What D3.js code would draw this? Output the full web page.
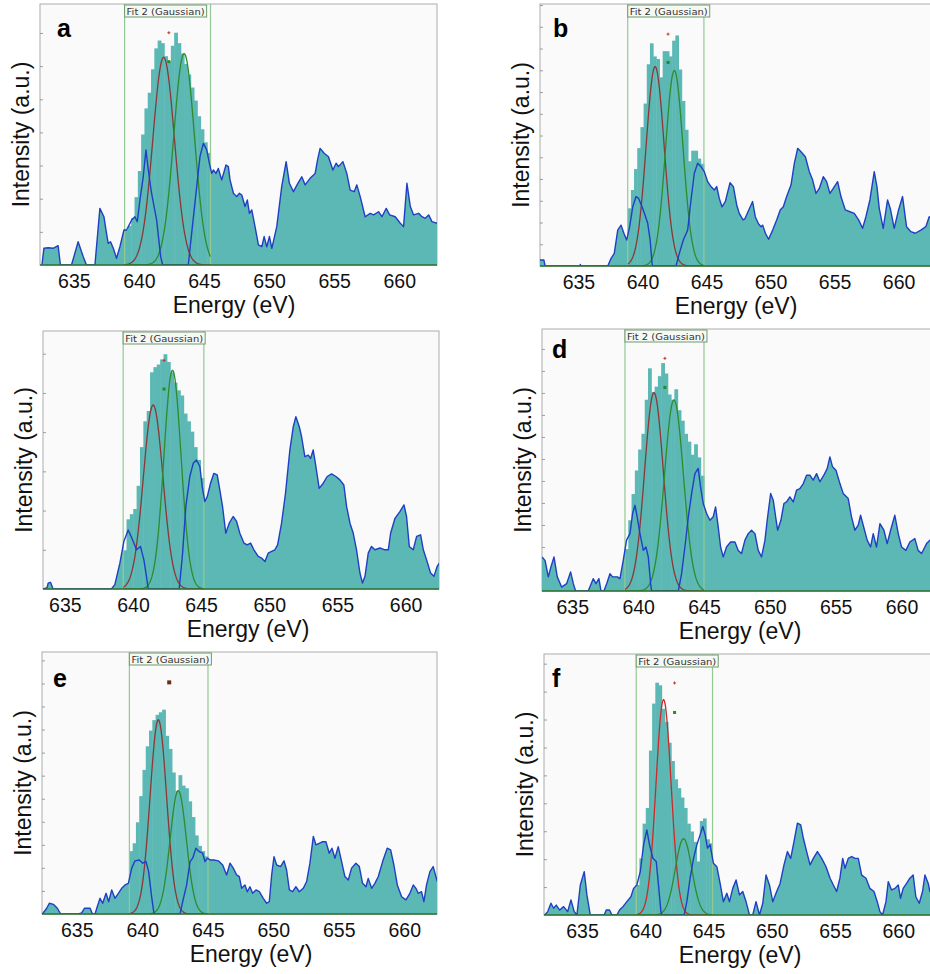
<!DOCTYPE html>
<html>
<head>
<meta charset="utf-8">
<script src="https://cdn.jsdelivr.net/npm/d3@7"></script>
<style>
  body { margin: 0; background: #fff; }
  svg { display: block; font-family: "Liberation Sans", Arial, sans-serif; }
</style>
</head>
<body>
<svg id="fig" width="930" height="974"></svg>
<script>
// ---- data (energy in eV, intensity in % of the plot height) ----
const xTicks = [635, 640, 645, 650, 655, 660];
const fitLabel = "Fit 2 (Gaussian)";

// measured spectrum (blue line); inside the fit window it is the residual
const specA = [[632.55,0],[632.7,6.4],[633.03,6.6],[633.41,6.4],[633.79,7.4],[633.97,0],[634.82,0],[635.33,8.9],[635.72,3.2],[635.97,0],[636.62,0],[637.0,21.7],[637.31,18.5],[637.51,12.1],[637.64,8.3],[637.82,8.9],[638.03,6.4],[638.28,2.6],[638.54,7.0],[638.85,13.4],[639.05,13.4],[639.44,17.2],[639.69,18.5],[639.87,16.6],[640.08,24.9],[640.33,33.8],[640.54,44.1],[640.72,36.4],[640.97,27.5],[641.36,17.2],[641.67,3.2],[641.82,0],[643.79,0],[644.05,12.1],[644.44,30.0],[644.69,41.5],[644.95,46.6],[645.21,44.1],[645.41,39.0],[645.59,35.1],[645.72,36.4],[645.92,35.1],[646.10,37.0],[646.36,32.6],[646.69,38.3],[646.87,37.7],[647.0,32.6],[647.26,27.5],[647.51,26.2],[647.72,27.5],[647.90,26.8],[648.15,22.4],[648.33,24.9],[648.49,19.8],[648.67,21.1],[648.92,14.7],[649.18,7.7],[649.44,7.0],[649.62,10.9],[649.82,7.0],[650.03,10.9],[650.21,6.4],[650.59,14.7],[650.97,30.0],[651.31,39.6],[651.56,31.3],[651.87,28.1],[652.21,31.3],[652.51,33.8],[652.77,30.7],[653.15,33.2],[653.54,35.1],[653.72,40.2],[653.92,44.7],[654.23,42.8],[654.56,41.5],[654.90,36.4],[655.15,39.0],[655.33,37.7],[655.67,39.6],[655.97,35.1],[656.23,28.7],[656.54,28.1],[656.74,30.7],[657.0,26.2],[657.38,18.5],[657.77,19.8],[658.03,19.2],[658.41,20.4],[658.67,18.5],[659.0,21.7],[659.26,19.2],[659.69,18.5],[660.08,16.0],[660.33,14.7],[660.59,31.3],[660.85,22.4],[661.10,19.2],[661.49,19.8],[661.74,18.5],[662.0,17.9],[662.26,19.2],[662.51,16.6],[662.9,16.0]];
const specB = [[632.0,2.3],[632.3,2.3],[632.4,0],[635.1,0],[635.15,0.6],[635.2,0],[637.29,0],[637.55,2.9],[637.8,4.8],[638.07,13.7],[638.33,15.6],[638.55,12.5],[638.77,9.9],[639.0,15.0],[639.24,22.6],[639.5,26.5],[639.7,25.8],[639.97,22.6],[640.15,20.1],[640.41,16.3],[640.6,9.9],[640.75,1.0],[640.8,0],[642.62,0],[642.88,4.8],[643.19,9.9],[643.53,13.7],[643.79,25.2],[644.05,35.4],[644.31,39.2],[644.57,37.9],[644.83,36.0],[645.09,32.2],[645.35,30.3],[645.61,29.0],[645.8,30.3],[646.0,25.8],[646.21,22.6],[646.47,24.6],[646.84,31.8],[647.1,30.3],[647.36,23.3],[647.56,20.1],[647.85,17.6],[648.0,18.0],[648.6,24.6],[648.81,18.8],[649.07,16.0],[649.26,15.0],[649.39,15.6],[649.6,12.5],[649.85,10.2],[650.17,13.7],[650.48,17.6],[650.76,21.4],[651.0,22.6],[651.26,26.5],[651.6,30.9],[651.86,39.2],[652.12,44.9],[652.38,43.6],[652.72,41.7],[653.03,36.0],[653.29,32.8],[653.55,27.7],[653.81,29.6],[654.12,34.1],[654.38,32.2],[654.64,27.7],[654.9,29.6],[655.24,32.2],[655.5,26.5],[655.84,21.4],[656.2,20.7],[656.54,20.1],[656.88,17.6],[657.19,14.4],[657.45,18.8],[657.76,25.2],[658.1,36.0],[658.31,30.3],[658.49,22.0],[658.8,14.4],[659.14,25.2],[659.35,22.0],[659.66,14.4],[660.0,21.4],[660.31,26.5],[660.62,15.0],[660.96,13.1],[661.3,12.5],[661.74,13.7],[662.13,15.0],[662.39,18.8],[663.0,17.0]];
const specC = [[633.4,0],[633.7,0.5],[633.78,2.3],[633.95,2.6],[634.14,0],[638.42,0],[638.67,1.7],[639.04,10],[639.33,18.4],[639.65,22.9],[639.97,19.1],[640.26,15.2],[640.55,16.5],[640.8,11.3],[640.99,4.9],[641.12,0],[643.39,0],[643.64,13.9],[643.88,32],[644.17,43.6],[644.42,48.7],[644.66,50],[644.91,47.4],[645.08,39.7],[645.27,33.9],[645.45,35.8],[645.69,41],[645.93,44.8],[646.18,44.2],[646.37,38.4],[646.57,32],[646.81,21.6],[647.06,25.5],[647.35,28.1],[647.6,26.2],[647.84,21.6],[648.14,17.8],[648.38,17.1],[648.63,17.8],[648.87,15.2],[649.19,12.6],[649.43,12],[649.68,10.7],[649.92,13.9],[650.17,14.6],[650.41,15.2],[650.61,17.1],[650.9,25.5],[651.19,37.1],[651.51,53.9],[651.76,62.9],[651.95,66.8],[652.2,62.9],[652.37,59],[652.61,51.3],[652.86,51.9],[653.03,50.6],[653.22,53.9],[653.42,47.4],[653.66,39],[653.96,41],[654.25,43.6],[654.57,44.6],[654.89,43.6],[655.18,42.3],[655.47,40.3],[655.67,32],[655.92,25.5],[656.16,21.6],[656.4,15.2],[656.65,6.2],[656.84,2.3],[657.02,4.9],[657.26,13.9],[657.5,16.5],[657.75,15.2],[658.12,15.9],[658.48,15.2],[658.73,15.2],[658.9,21.6],[659.22,27.4],[659.58,30],[659.88,32.6],[660.07,28.1],[660.27,16.5],[660.56,15.2],[660.81,20.4],[661.1,21],[661.3,15.2],[661.54,11.3],[661.83,6.2],[662.08,4.9],[662.32,8.8],[662.47,10]];
const specD = [[632.7,13],[632.93,11.7],[633.18,5.4],[633.38,9.2],[633.61,13],[633.86,5.4],[634.19,1.5],[634.57,2.8],[634.87,7.3],[635.08,2.8],[635.25,0],[636.21,0],[636.59,4.7],[636.8,2.8],[637.02,4.7],[637.18,0],[637.4,0],[637.61,2.8],[637.86,6.6],[638.06,5.4],[638.42,5.4],[638.62,4.7],[638.87,11.7],[639.12,19.4],[639.38,21.9],[639.58,29.6],[639.76,32.7],[639.93,28.3],[640.09,23.2],[640.39,15.5],[640.59,16.8],[640.77,13],[640.95,2.8],[641.02,0],[643.05,0],[643.3,6.6],[643.55,16.8],[643.81,28.3],[644.06,37.2],[644.31,44.8],[644.56,46.8],[644.74,39.7],[644.94,33.4],[645.2,29.6],[645.45,27],[645.7,28.3],[645.88,32.1],[646.08,24.5],[646.26,16.8],[646.46,13],[646.71,16.8],[647.02,18.7],[647.35,18.7],[647.6,15.5],[647.85,14.3],[648.11,19.4],[648.36,21.9],[648.61,23.2],[648.87,21.9],[649.12,15.5],[649.37,13],[649.63,19.4],[649.8,27],[650.06,37.2],[650.26,34.6],[650.44,28.3],[650.59,23.2],[650.84,27],[651.07,33.4],[651.27,34],[651.52,35.9],[651.78,34],[652.03,38.5],[652.28,39.1],[652.54,41],[652.79,44.2],[653.04,44.2],[653.29,42.3],[653.55,44.8],[653.8,41.7],[654.1,44.2],[654.36,46.8],[654.56,51.2],[654.76,47.4],[655.02,46.1],[655.32,41],[655.57,37.2],[655.95,35.3],[656.2,28.3],[656.46,23.2],[656.71,25.1],[656.89,28.9],[657.09,25.1],[657.39,19.4],[657.65,16.8],[657.85,21.9],[658.1,16.8],[658.36,25.7],[658.66,23.2],[658.91,18.1],[659.17,23.2],[659.49,28.9],[659.75,21.9],[660,16.8],[660.33,15.5],[660.63,18.7],[661.01,20],[661.26,15.5],[661.52,14.3],[661.9,18.1],[662.15,19.4],[662.9,17]];
const specE = [[632.38,0],[632.71,2.2],[632.91,4.1],[633.22,3.7],[633.52,2.2],[633.78,0],[635.13,0],[635.38,0.4],[635.6,2.2],[636.02,2.2],[636.2,0],[636.4,0],[636.53,2.2],[636.78,6],[636.98,4.1],[637.24,7.9],[637.44,4.7],[637.67,9.2],[637.92,6],[638.18,7.9],[638.43,9.8],[638.69,11.1],[638.94,11.7],[639.2,17.5],[639.45,20.3],[639.78,20.6],[640.04,19.4],[640.29,20],[640.49,16.2],[640.7,7.3],[640.9,0],[642.88,0],[643.09,4.7],[643.39,11.1],[643.65,20],[643.85,21.3],[644.1,25.1],[644.36,23.8],[644.61,23.2],[644.79,20],[644.97,21.3],[645.22,20.6],[645.48,20.6],[645.81,20.3],[646.14,18.7],[646.44,14.9],[646.7,19.4],[646.95,17.5],[647.21,14.9],[647.41,14.3],[647.59,9.8],[647.84,11.1],[648.02,8.5],[648.22,10.4],[648.43,7.9],[648.68,9.2],[648.94,8.5],[649.24,6],[649.5,4.1],[649.7,4.7],[649.88,14.9],[650.06,21.9],[650.26,18.7],[650.56,18.1],[650.82,20.3],[651.02,16.8],[651.23,9.2],[651.48,8.5],[651.73,10.4],[651.99,8.5],[652.29,9.8],[652.55,12.4],[652.8,19.4],[653.06,29.6],[653.26,26.4],[653.51,27],[653.77,27.6],[654.02,27.6],[654.28,23.2],[654.48,25.1],[654.71,21.3],[654.96,25.7],[655.22,20],[655.47,14.3],[655.73,13],[655.98,17.5],[656.31,19.4],[656.57,18.1],[656.82,11.7],[657.08,10.4],[657.25,13.6],[657.51,9.8],[657.76,11.7],[658.02,14.3],[658.35,20],[658.7,25.1],[658.96,24.5],[659.21,18.7],[659.47,11.1],[659.8,6.6],[660.13,5.4],[660.43,7.9],[660.69,11.1],[660.89,9.8],[661.07,7.9],[661.32,8.5],[661.5,4.7],[661.7,11.1],[661.96,16.2],[662.21,18.1],[662.52,12.4]];
const specF = [[632.05,0],[632.3,1.3],[632.55,4.5],[632.76,2.6],[632.97,3.8],[633.24,1.9],[633.55,3.2],[633.87,1.3],[634.13,5.8],[634.39,1.3],[634.6,0],[634.87,11.5],[635.18,16.6],[635.39,7.7],[635.66,0],[636.76,0],[636.92,1.9],[637.18,1.9],[637.37,0],[637.76,0],[637.97,1.9],[638.24,3.2],[638.55,5.1],[638.87,7],[639.08,10.2],[639.34,11.5],[639.61,16.6],[639.87,26.9],[640.13,32.6],[640.34,26.9],[640.61,21.7],[640.87,20.5],[641.05,11.5],[641.24,1.3],[641.32,0],[643.08,0],[643.29,5.1],[643.55,14.1],[643.82,21.7],[644.08,26.9],[644.34,30.7],[644.55,33.9],[644.74,30.7],[644.92,25.6],[645.13,26.9],[645.39,19.8],[645.66,18.5],[645.92,12.1],[646.18,5.1],[646.45,8.3],[646.66,5.1],[646.92,10.2],[647.18,13.4],[647.45,7.7],[647.71,9],[647.97,5.1],[648.24,0],[648.5,0],[648.76,5.1],[649.03,0],[649.29,4.5],[649.55,15.3],[649.82,11.5],[650.08,5.1],[650.39,9],[650.66,12.1],[650.97,19.2],[651.24,24.3],[651.5,21.7],[651.76,28.1],[652.03,35.2],[652.29,34.5],[652.5,29.4],[652.76,24.3],[653.03,19.2],[653.29,21.7],[653.61,24.3],[653.95,21.7],[654.29,18.5],[654.61,14.1],[654.87,11.5],[655.13,9],[655.39,14.1],[655.61,21.7],[655.79,17.9],[656.05,21.7],[656.32,22.4],[656.58,21.7],[656.84,21.7],[657.11,15.3],[657.45,14.1],[657.76,10.2],[658.08,9],[658.34,5.1],[658.55,1.3],[658.76,0],[659.03,5.1],[659.21,12.8],[659.47,9.6],[659.74,10.2],[660,11.5],[660.18,6.4],[660.39,10.2],[660.66,12.1],[660.92,14.1],[661.18,15.3],[661.39,7],[661.66,4.5],[661.92,9],[662.11,15.3],[662.37,12.1],[662.5,9],[663.3,10]];

// fit windows [from, to] in eV
const winA = [638.9, 645.5];
const winB = [638.85, 644.8];
const winC = [639.28, 645.2];
const winD = [639.0, 645.0];
const winE = [639.02, 645.02];
const winF = [639.29, 645.32];

// histogram bars shown inside the fit window (equal bins across the window)
const barsA = [13.4, 15, 18, 26, 36, 50, 60, 66, 75, 83, 86, 85, 80, 78, 84, 89, 85, 81, 77, 73, 68, 63, 57, 52, 47, 43];
const barsB = [22, 29, 37, 45, 53, 62, 77, 85, 80, 79, 72, 82, 82, 80, 86, 88, 75, 63, 52, 40, 44, 44, 41, 39];
const barsC = [15, 27, 29, 31, 40, 55, 65, 69, 84, 86, 87, 89, 91, 88, 84, 80, 77, 75, 68, 65, 61, 55, 50, 43];
const barsD = [16, 27, 37, 46, 54, 60, 73, 85, 76, 78, 82, 87, 83, 75, 73, 77, 69, 65, 60, 57, 52, 56, 51, 44];
const barsE = [24, 27, 35, 45, 55, 64, 70, 74, 76, 77, 78, 68, 63, 54, 47, 53, 49, 48, 43, 37, 30, 26, 24, 22];
const barsF = [11.5, 21.7, 35, 41, 63, 81, 89, 88, 79, 74, 66, 59, 52, 48.6, 45, 41, 35, 32, 28, 20.5, 36, 37, 29, 27.5];

// gaussian components: [centre eV, height %, sigma eV]
const fitA = [[641.9, 79.6, 0.83], [643.47, 81, 0.8]];
const fitB = [[640.99, 76.1, 0.7], [642.49, 74.6, 0.68]];
const fitC = [[641.48, 71.3, 0.72], [642.9, 84.8, 0.63]];
const fitD = [[641.2, 75.7, 0.71], [642.72, 72.9, 0.72]];
const fitE = [[641.23, 74.1, 0.63], [642.75, 47.1, 0.62]];
const fitF = [[641.45, 82.5, 0.6], [643.03, 29.2, 0.65]];

// cursor markers [eV, %]
const markA = [[642.3, 89], [642.3, 77.9]];
const markB = [[642.0, 88.5], [642.0, 77.7]];
const markC = [[642.28, 88.6], [642.28, 77.5]];
const markD = [[642.03, 88.8], [642.03, 77.7]];
const markE = [[642.06, 88.4]];
const markF = [[642.32, 88.9], [642.32, 77.6]];

// ---- layout ----
const panels = [
  { key: "a", spec: specA, win: winA, bars: barsA, fit: fitA, mark: markA, x0: 40,  x1: 437, y0: 4,   y1: 265, dom: [632.4, 662.9],  lx: 234, letter: [17, 33], tick: 12.7, red: "#8a3838" },
  { key: "b", spec: specB, win: winB, bars: barsB, fit: fitB, mark: markB, x0: 540, x1: 937, y0: 4,   y1: 266, dom: [632.0, 663.0],  lx: 736, letter: [13, 33], tick: 8.3,  red: "#8a3838" },
  { key: "",  spec: specC, win: winC, bars: barsC, fit: fitC, mark: markC, x0: 43,  x1: 439, y0: 331, y1: 589, dom: [633.4, 662.45], lx: 248, letter: null,     tick: 15.2, red: "#8a3838" },
  { key: "d", spec: specD, win: winD, bars: barsD, fit: fitD, mark: markD, x0: 542, x1: 940, y0: 329, y1: 591, dom: [632.7, 662.92], lx: 740, letter: [10, 29], tick: 8.4,  red: "#8a3838" },
  { key: "e", spec: specE, win: winE, bars: barsE, fit: fitE, mark: markE, x0: 42,  x1: 437, y0: 652, y1: 914, dom: [632.35, 662.5], lx: 251, letter: [11, 35], tick: 8.8,  red: "#8a3838" },
  { key: "f", spec: specF, win: winF, bars: barsF, fit: fitF, mark: markF, x0: 544, x1: 940, y0: 654, y1: 915, dom: [632.0, 663.3],  lx: 740, letter: [8, 33],  tick: 10.7, red: "#cc2a2a" }
];

const teal = "#5cb8b4", blue = "#1f3fc4", green = "#2e8b2e", winColor = "#93c993";
const svg = d3.select("#fig");
const defs = svg.append("defs");

panels.forEach((p, pi) => {
  const w = p.x1 - p.x0, h = p.y1 - p.y0;
  const x = d3.scaleLinear().domain(p.dom).range([0, w]);
  const y = d3.scaleLinear().domain([0, 100]).range([h, 0]);
  const g = svg.append("g").attr("transform", `translate(${p.x0},${p.y0})`);

  // clip for the whole plot and for the part outside the fit window
  defs.append("clipPath").attr("id", `plot${pi}`)
    .append("rect").attr("width", w).attr("height", h);
  const outside = defs.append("clipPath").attr("id", `out${pi}`);
  outside.append("rect").attr("x", 0).attr("width", x(p.win[0])).attr("height", h);
  outside.append("rect").attr("x", x(p.win[1])).attr("width", w - x(p.win[1])).attr("height", h);

  g.append("rect").attr("width", w).attr("height", h)
    .attr("fill", "#fafafa").attr("stroke", "#acacac").attr("stroke-width", 1);

  // y ticks (no labels)
  const yAxis = g.append("g")
    .call(d3.axisLeft(y).tickValues(d3.range(p.tick, 100, p.tick)).tickSize(-3).tickFormat(""));
  yAxis.select(".domain").remove();
  yAxis.selectAll("line").attr("stroke", "#7a7a7a").attr("stroke-opacity", 0.7);

  const plot = g.append("g").attr("clip-path", `url(#plot${pi})`);

  // filled spectrum outside the window
  const area = d3.area().x(d => x(d[0])).y0(h).y1(d => y(d[1]));
  plot.append("path").datum(p.spec)
    .attr("clip-path", `url(#out${pi})`)
    .attr("d", area).attr("fill", teal);

  // histogram inside the window
  const bw = (p.win[1] - p.win[0]) / p.bars.length;
  plot.selectAll("rect.bar").data(p.bars).join("rect")
    .attr("class", "bar")
    .attr("x", (v, i) => x(p.win[0] + i * bw))
    .attr("width", (v, i) => x(p.win[0] + (i + 1) * bw) - x(p.win[0] + i * bw) + 0.5)
    .attr("y", v => y(v))
    .attr("height", v => h - y(v))
    .attr("fill", teal);

  // window edges
  plot.selectAll("line.win").data(p.win).join("line")
    .attr("class", "win")
    .attr("x1", d => x(d)).attr("x2", d => x(d))
    .attr("y1", 0).attr("y2", h)
    .attr("stroke", winColor).attr("stroke-width", 1.2);

  // gaussian components
  const es = d3.range(p.win[0], p.win[1] + 1e-6, 0.04);
  const line = d3.line().x(d => x(d[0])).y(d => y(d[1]));
  p.fit.forEach((f, k) => {
    const pts = es.map(e => [e, f[1] * Math.exp(-((e - f[0]) ** 2) / (2 * f[2] * f[2]))]);
    plot.append("path").datum(pts)
      .attr("d", line).attr("fill", "none")
      .attr("stroke", k === 0 ? p.red : green).attr("stroke-width", 1.3);
  });

  // measured line
  plot.append("path").datum(p.spec)
    .attr("d", line).attr("fill", "none")
    .attr("stroke", blue).attr("stroke-width", 1.4).attr("stroke-linejoin", "round");

  // cursor markers
  p.mark.forEach((m, k) => {
    const cx = x(m[0]), cy = y(m[1]);
    if (p.mark.length === 1) {
      plot.append("rect").attr("x", cx - 2).attr("y", cy - 2).attr("width", 4).attr("height", 4).attr("fill", "#6e2c12");
    } else if (k === 0) {
      plot.append("path").attr("d", `M${cx - 1.5},${cy}H${cx + 1.5}M${cx},${cy - 1.5}V${cy + 1.5}`)
        .attr("stroke", "#c0392b").attr("stroke-width", 1);
    } else {
      plot.append("rect").attr("x", cx - 1.5).attr("y", cy - 1.5).attr("width", 3).attr("height", 3).attr("fill", "#1f8f1f");
    }
  });

  // bottom axis line
  g.append("line").attr("x1", 0).attr("x2", w).attr("y1", h).attr("y2", h)
    .attr("stroke", "#2f6f2f").attr("stroke-width", 1.6);

  // fit label box
  const lb = g.append("g").attr("transform", `translate(${x(p.win[0])},1)`);
  lb.append("rect").attr("width", 82).attr("height", 12)
    .attr("fill", "#f6f8f4").attr("stroke", "#6f9a6f").attr("stroke-width", 1);
  lb.append("text").attr("x", 2).attr("y", 9.5)
    .attr("font-family", "DejaVu Sans, Verdana, sans-serif").attr("font-size", 8.6)
    .attr("textLength", 78).attr("lengthAdjust", "spacingAndGlyphs")
    .attr("fill", "#333").text(fitLabel);

  // x axis labels
  const xAxis = g.append("g").attr("transform", `translate(0,${h})`)
    .call(d3.axisBottom(x).tickValues(xTicks).tickSize(0).tickFormat(d3.format("d")));
  xAxis.select(".domain").remove();
  xAxis.selectAll("text").attr("y", 23).attr("dy", 0)
    .attr("font-family", "Liberation Sans, Arial, sans-serif")
    .attr("font-size", 19.5).attr("fill", "#111");

  g.append("text").attr("x", p.lx - p.x0).attr("y", h + 48)
    .attr("text-anchor", "middle").attr("font-size", 23).attr("fill", "#111")
    .text("Energy (eV)");

  g.append("text")
    .attr("transform", `translate(-11,${h / 2}) rotate(-90)`)
    .attr("text-anchor", "middle").attr("font-size", 23).attr("fill", "#111")
    .text("Intensity (a.u.)");

  if (p.letter) {
    g.append("text").attr("x", p.letter[0]).attr("y", p.letter[1])
      .attr("font-size", 25).attr("font-weight", "bold").attr("fill", "#000")
      .text(p.key);
  }
});
</script>
</body>
</html>
